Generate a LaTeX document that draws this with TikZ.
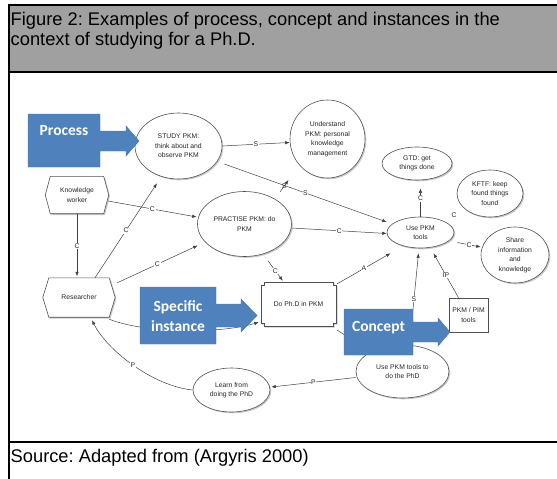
\documentclass[tikz,border=0pt]{standalone}
\usepackage{fontspec}
\setmainfont{Liberation Sans}
\newfontfamily\calloutfont{Carlito}
\usetikzlibrary{arrows.meta,shapes.geometric,shadows,calc}
\pgfdeclarelayer{bg}
\pgfsetlayers{bg,main}
\frenchspacing

\definecolor{headgray}{RGB}{160,160,160}
\definecolor{calloutblue}{RGB}{79,129,189}
\definecolor{linegray}{RGB}{64,64,64}
\definecolor{edgegray}{RGB}{80,80,80}

\tikzset{
  every node/.style={font=\fontsize{6.8}{9.5}\selectfont, text=black!85},
  softshadow/.style={drop shadow={shadow xshift=1.3pt, shadow yshift=-1.3pt, opacity=0.3, fill=black!70}},
  oval/.style={ellipse, draw=edgegray, line width=0.6pt, fill=white, align=center, inner sep=0pt, softshadow},
  hexholder/.style={rectangle, inner sep=0pt, align=center},
  outline/.style={draw=edgegray, line width=0.6pt, fill=white, softshadow},
  plainbox/.style={rectangle, draw=edgegray, line width=0.6pt, fill=white, align=center, inner sep=0pt, softshadow},
  conn/.style={draw=linegray, line width=0.5pt, -{Latex[length=4.5pt,width=3.4pt]}},
  tag/.style={fill=white, inner sep=0.6pt},
  frameline/.style={line width=2.5pt, draw=black},
  callout/.style={fill=calloutblue, draw=calloutblue!90!black, line width=0.4pt},
  callouttext/.style={text=white, font=\calloutfont\bfseries\fontsize{15.5}{20}\selectfont, align=center},
  titletext/.style={font=\fontsize{18.3}{20}\selectfont, text=black, inner sep=0pt, anchor=base west},
}

\begin{document}
\begin{tikzpicture}[x=1pt,y=-1pt]
\useasboundingbox (0,0) rectangle (557,479);

% header band and frame rules
\fill[headgray] (9,5) rectangle (557,72);
\draw[frameline] (9,5) -- (557,5);
\draw[frameline] (9,72) -- (557,72);
\draw[frameline] (9,442) -- (557,442);
\draw[frameline] (9,3.75) -- (9,479);

\node[titletext] (title1) at (10.5,25) {Figure 2: Examples of process, concept and instances in the};
\node[titletext] (title2) at (10.5,45) {context of studying for a Ph.D.};
\node[titletext] (source) at (10.5,462) {Source: Adapted from (Argyris 2000)};

% concept nodes
\node[oval, minimum width=87pt, minimum height=66pt] (study) at (178.5,146) {STUDY PKM:\\think about and\\observe PKM};
\node[oval, minimum width=75pt, minimum height=78pt] (understand) at (327.5,139) {Understand\\PKM: personal\\knowledge\\management};
\node[hexholder, minimum width=63pt, minimum height=37pt] (kw) at (77,195) {Knowledge\\worker};
\node[hexholder, minimum width=72pt, minimum height=39pt] (researcher) at (79,297.5) {Researcher};
\node[oval, minimum width=94pt, minimum height=65pt] (practise) at (244.5,224) {PRACTISE PKM: do\\PKM};
\node[oval, minimum width=70pt, minimum height=33pt] (gtd) at (417,163.5) {GTD: get\\things done};
\node[oval, minimum width=66pt, minimum height=47pt] (kftf) at (490,193.5) {KFTF: keep\\found things\\found};
\node[oval, minimum width=67pt, minimum height=31pt] (usepkm) at (420.5,232.5) {Use PKM\\tools};
\node[oval, minimum width=68pt, minimum height=56pt] (share) at (515,255) {Share\\information\\and\\knowledge};
\node[hexholder, minimum width=75pt, minimum height=44pt] (dophd) at (298.5,304) {Do Ph.D in PKM};
\node[plainbox, minimum width=39pt, minimum height=34pt] (pim) at (468.5,315) {PKM / PIM\\tools};
\node[oval, minimum width=93pt, minimum height=53pt] (usephd) at (402.5,371.5) {Use PKM tools to\\do the PhD};
\node[oval, minimum width=77pt, minimum height=44pt] (learn) at (231.5,390) {Learn from\\doing the PhD};
\node (kftfc) at (454,215) {C};

% hexagons and the notched box, drawn under their texts
\begin{pgfonlayer}{bg}
\foreach \n/\d in {kw/5, researcher/6}{
  \draw[outline] ($(\n.north west)+(\d,0)$) -- ($(\n.north east)+(-\d,0)$) -- (\n.east)
    -- ($(\n.south east)+(-\d,0)$) -- ($(\n.south west)+(\d,0)$) -- (\n.west) -- cycle;
}
\draw[outline] ($(dophd.north west)+(0,3)$) -- ++(3,0) -- ++(0,-3) -- ($(dophd.north east)+(-3,0)$)
  -- ++(0,3) -- ++(3,0) -- ($(dophd.south east)+(0,-3)$) -- ++(-3,0) -- ++(0,3)
  -- ($(dophd.south west)+(3,0)$) -- ++(0,-3) -- ++(-3,0) -- cycle;
\end{pgfonlayer}

% connectors
\draw[conn] (study.east) -- node[tag]{S} ($(understand.west)+(0,3.5)$);
\draw[conn] ($(study.east)+(2,18)$) -- node[tag]{S} ($(usepkm.west)+(0,-10.5)$);
\coordinate (stubtail) at (280,192);
\coordinate (stubhead) at (288.5,180);
\draw[conn] (stubtail) -- node[tag, fill=none]{S} (stubhead);
\draw[conn] ($(kw.east)+(-0.5,6)$) -- node[tag]{C} ($(practise.west)+(-0.5,-7)$);
\draw[conn, shorten >=1.5pt] (kw.south) -- node[tag]{C} (kw.south |- researcher.north);
\draw[conn] ($(researcher.north)+(16,0)$) -- node[tag]{C} ($(study.south)+(-21.5,4)$);
\draw[conn] ($(researcher.north east)+(2,5)$) -- node[tag]{C} ($(practise.west)+(0.5,21.5)$);
\draw[conn] ($(practise.east)+(0,4)$) -- node[tag]{C} ($(usepkm.west)+(0,1)$);
\draw[conn] ($(practise.south)+(23.5,4)$) -- node[tag]{C} ($(dophd.north west)+(22,-1)$);
\draw[conn] ($(dophd.north east)+(1,2)$) -- node[tag]{A} ($(usepkm.south)+(-30,5)$);
\draw[conn, shorten >=8pt] (usepkm.north) -- node[tag]{C} (usepkm.north |- gtd.south);
\draw[conn] ($(usepkm.east)+(3,10)$) -- node[tag]{C} ($(share.west)+(0,-8)$);
\draw[conn] ($(pim.north)+(-10,0)$) -- node[tag]{IP} ($(usepkm.south)+(13,5)$);
\draw[conn] ($(usephd.north)+(7,0)$) -- node[tag]{S} ($(usepkm.south)+(-2,5)$);
\draw[conn] ($(researcher.south east)+(-6,2)$) .. controls +(35,14) and +(-40,12) .. ($(dophd.south west)+(-2,-4)$);
\draw[conn] ($(usephd.west)+(0,6)$) -- node[tag]{P} ($(learn.east)+(1,-3)$);
\draw[conn] (learn.west) .. controls +(-40,-4) and +(15,30) .. node[tag]{P} ($(researcher.south)+(13,3)$);
\draw[conn] ($(dophd.south east)+(1,4)$) -- (usephd);

% callout arrows
\path[callout] (28,114) -- (100,114) -- (100,131) -- (126,131) -- (126,126) -- (139,141)
  -- (126,156) -- (126,151) -- (100,151) -- (100,167) -- (28,167) -- cycle;
\node[callouttext] (processlabel) at (64,131) {Process};

\path[callout] (140,287) -- (216,287) -- (216,304) -- (241,304) -- (241,299) -- (257,315.5)
  -- (241,332) -- (241,327) -- (216,327) -- (216,344) -- (140,344) -- cycle;
\node[callouttext] (instancelabel) at (178,316) {Specific\\instance};

\path[callout] (344,309) -- (413,309) -- (413,322) -- (438,322) -- (438,318) -- (450,332)
  -- (438,346) -- (438,342) -- (413,342) -- (413,355) -- (344,355) -- cycle;
\node[callouttext] (conceptlabel) at (378.5,328) {Concept};
\end{tikzpicture}
\end{document}
